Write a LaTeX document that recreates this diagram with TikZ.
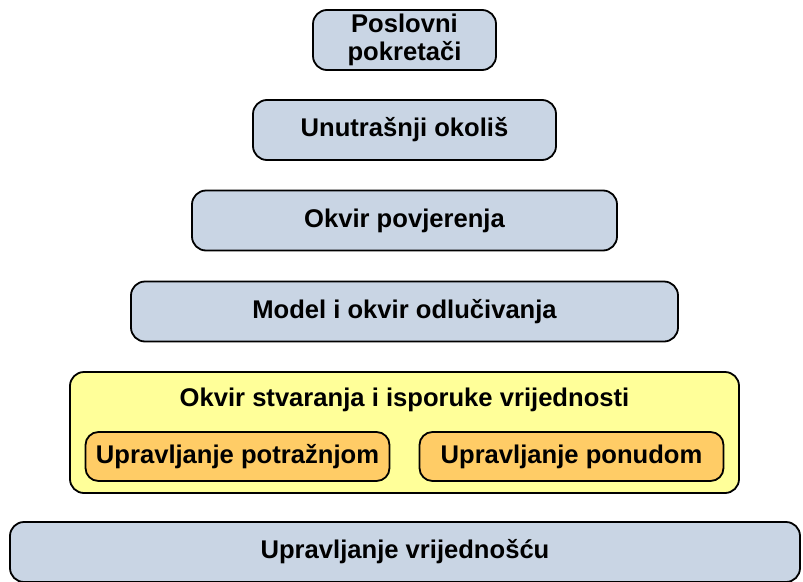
\documentclass[tikz,border=0pt]{standalone}
\usepackage{fontspec}
\setmainfont{Liberation Sans}
\usepackage{tikz}
\usetikzlibrary{positioning}
\definecolor{bluec}{HTML}{C9D5E4}
\definecolor{yellowc}{HTML}{FFFF99}
\definecolor{orangec}{HTML}{FFCC66}
\tikzset{
  box/.style={draw=black,line width=1.8pt,rounded corners=14pt,inner sep=0pt,align=center,
    font=\fontsize{25.6}{28}\selectfont\bfseries},
  bluebox/.style={box,fill=bluec,minimum height=60},
  orangebox/.style={box,fill=orangec,minimum width=304,minimum height=49,rounded corners=13pt}
}
\begin{document}
\begin{tikzpicture}[x=1pt,y=-1pt]
\useasboundingbox (0,0) rectangle (803,581);
\foreach \n/\y/\w/\t in {1/40/183/{Poslovni\\pokretači},2/130/303/Unutrašnji okoliš,3/220.5/425/Okvir povjerenja,4/311.5/547/Model i okvir odlučivanja}{
  \node[bluebox,minimum width=\w] (b\n) at (404.5,\y) {\t};}
\node[box,fill=yellowc,minimum width=669,minimum height=121] (okvir) at (404.5,432.5) {};
\node[font=\fontsize{25.6}{28}\selectfont\bfseries] (naslov) at (404.5,400) {Okvir stvaranja i isporuke vrijednosti};
\node[orangebox] (potraznja) at (237.5,456.5) {Upravljanje potražnjom};
\node[orangebox] (ponuda) at (571.5,456.5) {Upravljanje ponudom};
\node[bluebox,minimum width=790] (b5) at (405,552) {Upravljanje vrijednošću};
\end{tikzpicture}
\end{document}
